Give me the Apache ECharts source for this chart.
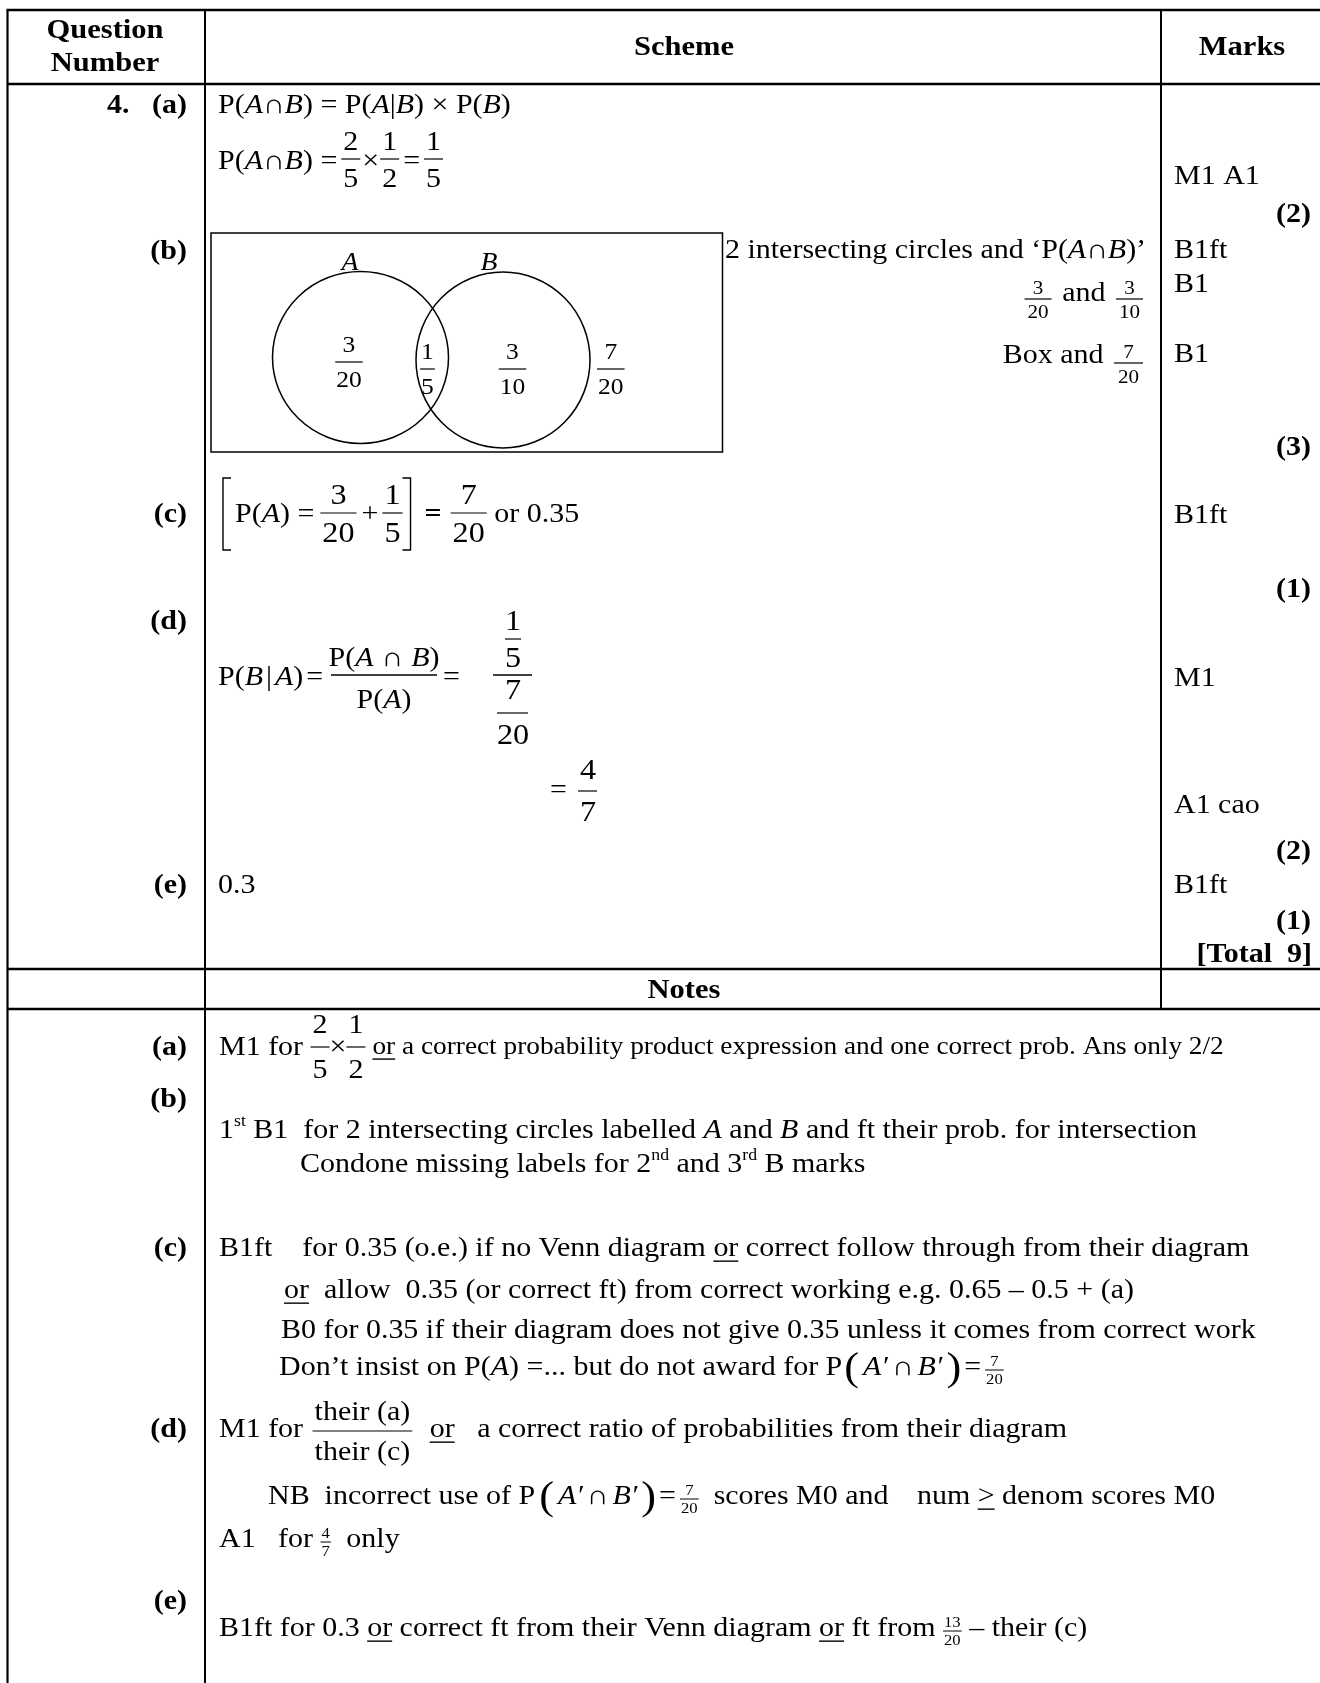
<!DOCTYPE html>
<html><head><meta charset="utf-8">
<script src="https://cdn.jsdelivr.net/npm/echarts@6/dist/echarts.min.js"></script>
<style>html,body{margin:0;padding:0;background:#fff}#c{width:1320px;height:1683px}</style>
</head><body><div id="c"></div>
<script>
// ---------------- DATA ----------------
const headerCells = ['Question', 'Number', 'Scheme', 'Marks'];
const notesHeader = 'Notes';
const questionNo = '4.';
const partLabels = ['(a)', '(b)', '(c)', '(d)', '(e)'];
const vennSets = ['A', 'B'];
const vennRegionNum = ['3', '1', '3', '7'];     // A only, A∩B, B only, outside
const vennRegionDen = ['20', '5', '10', '20'];
const markCodes = ['M1 A1', 'B1ft', 'B1', 'B1', 'B1ft', 'M1', 'A1 cao', 'B1ft'];
const partTotals = ['(2)', '(3)', '(1)', '(2)', '(1)'];
const questionTotal = '[Total  9]';
const answerE = '0.3';

// ---------------- RENDER HELPERS ----------------
const FF = '"Liberation Serif","Times New Roman",serif';
const SX = 1.11;
const G = [];
const cv = document.createElement('canvas').getContext('2d');
function fnt(fs, it, b) { return (it ? 'italic ' : '') + (b ? 'bold ' : '') + fs + 'px ' + FF; }
function W(s, fs, it, b) { cv.font = fnt(fs, it, b); return cv.measureText(s).width * SX; }
function T(s, x, y, o) {
  o = o || {}; const fs = o.fs || 27;
  G.push({ type: 'text', x: x, y: y, scaleX: SX, silent: true, z: 10,
    style: { text: s, x: 0, y: 0, fontSize: fs, fontFamily: FF,
      fontStyle: o.it ? 'italic' : 'normal', fontWeight: o.b ? 'bold' : 'normal', fill: '#000',
      align: o.al || 'left', verticalAlign: 'middle', textAlign: o.al || 'left', textVerticalAlign: 'middle' } });
}
function L(x1, y1, x2, y2, w) { G.push({ type: 'line', silent: true, shape: { x1, y1, x2, y2 }, style: { stroke: '#000', lineWidth: w || 1.3 } }); }
function PL(pts, w) { G.push({ type: 'polyline', silent: true, shape: { points: pts }, style: { stroke: '#000', fill: null, lineWidth: w || 1.3 } }); }
const I = s => ({ t: s, i: true });
const U = (s, fs) => ({ t: s, u: true, fs: fs });
const TF = (n, d) => ({ f: [n, d], fs: 15, up: 8, dn: 10, pad: 1, lw: 1, by: 2 });
const BP = s => ({ t: s, fs: 40, dy: 1 });

function run(x, y, segs, dflt, dry) {
  dflt = dflt || {}; let cx = x;
  for (const s0 of segs) {
    const sg = (typeof s0 === 'string') ? { t: s0 } : s0;
    if (sg.g !== undefined) { cx += sg.g; continue; }
    const fs = sg.fs || dflt.fs || 27;
    if (sg.f) {
      const pad = sg.pad !== undefined ? sg.pad : 2;
      const wn = W(sg.f[0], fs), wd = W(sg.f[1], fs);
      const w = Math.max(wn, wd) + 2 * pad;
      if (!dry) {
        const by = y + (sg.by !== undefined ? sg.by : 1), c = cx + w / 2;
        L(cx, by, cx + w, by, sg.lw || 1.2);
        T(sg.f[0], c, by - (sg.up || 0.6 * fs), { fs: fs, al: 'center' });
        T(sg.f[1], c, by + (sg.dn || 0.78 * fs), { fs: fs, al: 'center' });
      }
      cx += w; continue;
    }
    if (sg.sup) {
      const sfs = sg.fs || 16; const w = W(sg.sup, sfs);
      if (!dry) T(sg.sup, cx, y - (sg.dy || 9), { fs: sfs });
      cx += w; continue;
    }
    const w = W(sg.t, fs, sg.i, sg.b);
    if (!dry) {
      T(sg.t, cx, y + (sg.dy || 0), { fs: fs, it: sg.i, b: sg.b });
      if (sg.u) L(cx, y + 0.45 * fs, cx + w, y + 0.45 * fs, 1.4);
    }
    cx += w;
  }
  return cx;
}
function runR(xr, y, segs, d) { const w = run(0, y, segs, d, true); return run(xr - w, y, segs, d); }
function runC(xc, y, segs, d) { const w = run(0, y, segs, d, true); return run(xc - w / 2, y, segs, d); }

// ---------------- TABLE GRID ----------------
const X0 = 7.5, XC1 = 205, XC2 = 1161, XR = 1320, BOT = 1683;
L(X0 - 1, 10, XR, 10, 2.6);
L(X0, 10, X0, BOT, 2.2);
L(XC1, 10, XC1, BOT, 2);
L(XC2, 10, XC2, 1009, 2);
L(X0, 84, XR, 84, 2.6);
L(X0, 969, XR, 969, 2.6);
L(X0, 1009, XR, 1009, 2.6);

// header
T(headerCells[0], 105, 31, { b: true, fs: 27.5, al: 'center' });
T(headerCells[1], 105, 64, { b: true, fs: 27.5, al: 'center' });
T(headerCells[2], 684, 48, { b: true, fs: 27.5, al: 'center' });
T(headerCells[3], 1242, 48, { b: true, fs: 27.5, al: 'center' });

// part labels (scheme)
const LX = 187;
T(questionNo, 107, 106, { b: true });
T(partLabels[0], LX, 106, { b: true, al: 'right' });
T(partLabels[1], LX, 252, { b: true, al: 'right' });
T(partLabels[2], LX, 515, { b: true, al: 'right' });
T(partLabels[3], LX, 622, { b: true, al: 'right' });
T(partLabels[4], LX, 886, { b: true, al: 'right' });

// marks column
const MX = 1174, RX = 1311;
T(markCodes[0], MX, 177);
T(partTotals[0], RX, 215, { b: true, al: 'right' });
T(markCodes[1], MX, 251);
T(markCodes[2], MX, 285);
T(markCodes[3], MX, 355);
T(partTotals[1], RX, 448, { b: true, al: 'right' });
T(markCodes[4], MX, 516);
T(partTotals[2], RX, 590, { b: true, al: 'right' });
T(markCodes[5], MX, 679);
T(markCodes[6], MX, 806);
T(partTotals[3], RX, 852, { b: true, al: 'right' });
T(markCodes[7], MX, 886);
T(partTotals[4], RX, 922, { b: true, al: 'right' });
T(questionTotal, RX + 1, 955, { b: true, al: 'right' });

// (a)
run(218, 106, ['P(', I('A'), '∩', I('B'), ') = P(', I('A'), '|', I('B'), ') × P(', I('B'), ')']);
{
  const fr = (n, d) => ({ f: [n, d], by: -3, up: 16, dn: 21 });
  run(218, 162, ['P(', I('A'), '∩', I('B'), ') =', { g: 4 }, fr('2', '5'), { g: 2 }, '×', { g: 1 },
    fr('1', '2'), { g: 4 }, '=', { g: 4 }, fr('1', '5')]);
}

// (b) Venn diagram
G.push({ type: 'rect', silent: true, shape: { x: 211, y: 233, width: 511.5, height: 219 }, style: { fill: null, stroke: '#000', lineWidth: 1.5 } });
const circ = [[360.5, 357.5, 88, 86], [503, 360, 87, 88]];
circ.forEach(c => G.push({ type: 'circle', silent: true, x: c[0], y: c[1], scaleY: c[3] / c[2], shape: { cx: 0, cy: 0, r: c[2] }, style: { fill: null, stroke: '#000', lineWidth: 1.5 } }));
T(vennSets[0], 350, 263, { it: true, fs: 25, al: 'center' });
T(vennSets[1], 489, 263, { it: true, fs: 25, al: 'center' });
const regionPos = [[349, 362], [427.5, 369], [512.5, 369], [610.8, 369]];
vennRegionNum.forEach((n, i) => {
  const fs = 23, p = regionPos[i];
  const w = Math.max(W(n, fs), W(vennRegionDen[i], fs)) + 2;
  L(p[0] - w / 2, p[1], p[0] + w / 2, p[1], 1.2);
  T(n, p[0], p[1] - 16.5, { fs: fs, al: 'center' });
  T(vennRegionDen[i], p[0], p[1] + 19, { fs: fs, al: 'center' });
});
run(725, 251, ['2 intersecting circles and ‘P(', I('A'), '∩', I('B'), ')’']);
runR(1143, 294, [{ f: [vennRegionNum[0], vennRegionDen[0]], fs: 19, by: 5, up: 10, dn: 14, pad: 3 }, { g: 3 }, ' and ', { g: 3 },
  { f: [vennRegionNum[2], vennRegionDen[2]], fs: 19, by: 5, up: 10, dn: 14, pad: 3 }]);
runR(1143, 356, ['Box and ', { g: 3 }, { f: [vennRegionNum[3], vennRegionDen[3]], fs: 19, by: 7, up: 10, dn: 15, pad: 4 }]);

// (c)
{
  const y = 515, fr = (n, d) => ({ f: [n, d], fs: 29, by: -2, up: 17, dn: 21 });
  PL([[231, 478], [223, 478], [223, 550], [231, 550]], 1.4);
  let x = run(235, y, ['P(', I('A'), ') =', { g: 6 }, fr('3', '20'), { g: 5 }, '+', { g: 4 }, fr('1', '5')]);
  const xr = x + 8;
  PL([[xr - 8, 478], [xr, 478], [xr, 550], [xr - 8, 550]], 1.4);
  run(xr + 14, y, [{ t: '=', b: true }, { g: 9 }, fr('7', '20'), ' or 0.35']);
}

// (d)
{
  const y = 678;
  run(218, y, ['P(', I('B'), { g: 3 }, '|', { g: 3 }, I('A'), ')', { g: 3 }, '=']);
  L(331, 675, 437, 675, 1.3);
  runC(384, 659, ['P(', I('A'), { g: 8 }, '∩', { g: 8 }, I('B'), ')']);
  runC(384, 701, ['P(', I('A'), ')']);
  T('=', 443, y);
  L(493, 675, 532, 675, 1.3);
  T('1', 513, 622, { fs: 29, al: 'center' }); L(505, 639, 521, 639, 1.2); T('5', 513, 659, { fs: 29, al: 'center' });
  T('7', 513, 691, { fs: 29, al: 'center' }); L(497, 713, 528, 713, 1.2); T('20', 513, 736, { fs: 29, al: 'center' });
  T('=', 550, 791);
  T('4', 588, 771, { fs: 29, al: 'center' }); L(578, 791, 597, 791, 1.2); T('7', 588, 813, { fs: 29, al: 'center' });
}

// (e)
T(answerE, 218, 886);

// ---------------- NOTES ----------------
T(notesHeader, 684, 991, { b: true, fs: 27.5, al: 'center' });
T(partLabels[0], LX, 1048, { b: true, al: 'right' });
T(partLabels[1], LX, 1100, { b: true, al: 'right' });
T(partLabels[2], LX, 1249, { b: true, al: 'right' });
T(partLabels[3], LX, 1430, { b: true, al: 'right' });
T(partLabels[4], LX, 1602, { b: true, al: 'right' });

run(219, 1048, ['M1 for ', { f: ['2', '5'], by: -1, up: 21, dn: 24 }, '×', { f: ['1', '2'], by: -1, up: 21, dn: 24 }, { g: 7 }, U('or', 24.6),
  { t: ' a correct probability product expression and one correct prob. Ans only 2/2', fs: 24.6 }]);

run(219, 1131, ['1', { sup: 'st', fs: 16, dy: 9 }, ' B1  for 2 intersecting circles labelled ', I('A'), ' and ', I('B'), ' and ft their prob. for intersection']);
run(300, 1165, ['Condone missing labels for 2', { sup: 'nd', fs: 16, dy: 9 }, ' and 3', { sup: 'rd', fs: 16, dy: 9 }, ' B marks']);

run(219, 1249, ['B1ft    for 0.35 (o.e.) if no Venn diagram ', U('or'), ' correct follow through from their diagram']);
run(284, 1291, [U('or'), '  allow  0.35 (or correct ft) from correct working e.g. 0.65 – 0.5 + (a)']);
run(281, 1331, ['B0 for 0.35 if their diagram does not give 0.35 unless it comes from correct work']);
run(279, 1368, ['Don’t insist on P(', I('A'), ') =... but do not award for P', { g: 2 }, BP('('), { g: 4 }, I('A′'), { g: 4 }, '∩', { g: 4 }, I('B′'), { g: 4 }, BP(')'), { g: 3 }, '=', { g: 4 }, TF('7', '20')]);

run(219, 1430, ['M1 for ', { g: 2 }, { f: ['their (a)', 'their (c)'], up: 18, dn: 22, pad: 2, by: 1 }, { g: 10 }, ' ', U('or'), '   a correct ratio of probabilities from their diagram']);
run(268, 1497, ['NB  incorrect use of P', { g: 4 }, BP('('), { g: 4 }, I('A′'), { g: 4 }, '∩', { g: 4 }, I('B′'), { g: 4 }, BP(')'), { g: 3 }, '=', { g: 4 }, TF('7', '20'), '  scores M0 and   ', { g: 6 }, 'num ', U('>'), ' denom scores M0']);
run(219, 1540, ['A1   for ', TF('4', '7'), { g: 8 }, ' only']);
run(219, 1629, ['B1ft for 0.3 ', U('or'), ' correct ft from their Venn diagram ', U('or'), ' ft from ', TF('13', '20'), ' – their (c)']);

// ---------------- CHART ----------------
const chart = echarts.init(document.getElementById('c'), null, { renderer: 'canvas', width: 1320, height: 1683 });
chart.setOption({ animation: false, backgroundColor: '#ffffff', graphic: G });
</script></body></html>
